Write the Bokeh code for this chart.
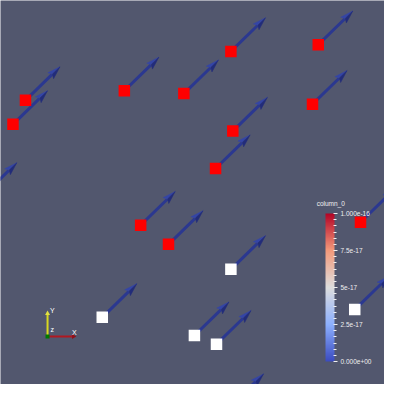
from bokeh.plotting import figure
from bokeh.models import ColorBar, LinearColorMapper, FixedTicker, Label, ColumnDataSource
from bokeh.embed import file_html
from bokeh.resources import INLINE
import numpy as np

# Glyph centres in screen-like scene units (x right, y up), column_0 value per point
pt_x = [240, 331, 26, 13, 129, 191, 325, 242, 224, 146, 175, 375,
        240, 106, 202, 225, 369, -19, 238]
pt_y = [347, 354, 296, 271, 306, 303, 292, 264, 225, 166, 146, 169,
        120, 70, 51, 42, 78, 196, -24]
column_0 = [1e-16] * 12 + [5e-17] * 5 + [1e-16, 5e-17]

# vector attached to each point (arrow glyph)
vec_u = [36] * len(pt_x)
vec_v = [35] * len(pt_x)

bar_ticks = [0.0, 2.5e-17, 5e-17, 7.5e-17, 1e-16]
bar_labels = ["0.000e+00", "2.5e-17", "5e-17", "7.5e-17", "1.000e-16"]

BG = "#52576e"
W = H = 384


def cool_to_warm(n=256):
	stops = [0.0, 0.25, 0.5, 0.75, 1.0]
	rgb = np.array([[59, 76, 192], [141, 176, 254], [221, 221, 221],
					[244, 154, 123], [180, 4, 38]], dtype=float)
	t = np.linspace(0, 1, n)
	cols = np.column_stack([np.interp(t, stops, rgb[:, k]) for k in range(3)])
	return ["#%02x%02x%02x" % tuple(int(round(c)) for c in row) for row in cols]


p = figure(width=W, height=H, x_range=(0, 400), y_range=(0, 400),
		   toolbar_location=None, output_backend="svg", min_border=0)
p.background_fill_color = BG
p.border_fill_color = BG
p.outline_line_color = None
p.axis.visible = False
p.grid.visible = False

# Arrows: shaft + two-tone cone head
x0 = np.array(pt_x, dtype=float)
y0 = np.array(pt_y, dtype=float)
u = np.array(vec_u, dtype=float)
v = np.array(vec_v, dtype=float)
ln = np.hypot(u, v)
dx, dy = u / ln, v / ln
nx, ny = -dy, dx
tx, ty = x0 + u, y0 + v
head_len, head_w = 13.5, 8.5
bx, by = tx - head_len * dx, ty - head_len * dy

p.segment(x0, y0, bx + 2 * dx, by + 2 * dy, line_color="#2b3890", line_width=3)
light_xs = [[tx[i], bx[i] + head_w / 2 * nx[i], bx[i] + 2.5 * dx[i]] for i in range(len(tx))]
light_ys = [[ty[i], by[i] + head_w / 2 * ny[i], by[i] + 2.5 * dy[i]] for i in range(len(tx))]
dark_xs = [[tx[i], bx[i] + 2.5 * dx[i], bx[i] - head_w / 2 * nx[i]] for i in range(len(tx))]
dark_ys = [[ty[i], by[i] + 2.5 * dy[i], by[i] - head_w / 2 * ny[i]] for i in range(len(tx))]
p.patches(light_xs, light_ys, fill_color="#3445a6", line_color="#3445a6", line_width=0.5)
p.patches(dark_xs, dark_ys, fill_color="#222c7a", line_color="#222c7a", line_width=0.5)

# Points coloured by column_0
pt_mapper = LinearColorMapper(palette=["#ffffff", "#ff0000"], low=5e-17, high=1e-16)
src = ColumnDataSource(dict(x=pt_x, y=pt_y, c=column_0))
p.scatter("x", "y", marker="square", size=11.5, source=src,
		  fill_color={"field": "c", "transform": pt_mapper}, line_color=None)

# Colour legend
bar_mapper = LinearColorMapper(palette=cool_to_warm(), low=bar_ticks[0], high=bar_ticks[-1])
minor = [bar_ticks[-1] * i / 24 for i in range(1, 24) if i % 6]
cb = ColorBar(color_mapper=bar_mapper,
			  ticker=FixedTicker(ticks=bar_ticks, minor_ticks=minor),
			  major_label_overrides={t: s for t, s in zip(bar_ticks, bar_labels)},
			  width=9, height=148, location=(325, 23), padding=0,
			  background_fill_alpha=0, border_line_color=None, bar_line_color=None,
			  major_tick_in=1, major_tick_out=3, major_tick_line_color="#f0f0f0",
			  minor_tick_in=1, minor_tick_out=2, minor_tick_line_color="#f0f0f0",
			  label_standoff=3, major_label_text_color="#eeeeee",
			  major_label_text_font="Liberation Sans", major_label_text_font_size="6.5px")
p.add_layout(cb)
p.add_layout(Label(x=344, y=189, text="column_0", text_align="center", text_baseline="middle",
				   text_color="#eeeeee", text_font="Liberation Sans", text_font_size="6.5px"))

# Orientation triad
ox, oy = 49, 50
p.segment([ox], [oy], [ox], [oy + 24], line_color="#d8d820", line_width=2)
p.segment([ox], [oy], [ox + 26], [oy], line_color="#b01820", line_width=2)
p.scatter([ox], [oy + 24], marker="triangle", size=5, fill_color="#e0e040", line_color=None)
p.scatter([ox + 27], [oy], marker="triangle", angle=-np.pi / 2, size=5, fill_color="#901018", line_color=None)
p.scatter([ox], [oy], marker="square", size=4, fill_color="#007a00", line_color=None)
for tx_, ty_, s in [(ox + 5, oy + 27, "Y"), (ox + 28, oy + 4, "X"), (ox + 5, oy + 7, "z")]:
	p.add_layout(Label(x=tx_, y=ty_, text=s, text_align="center", text_baseline="middle",
					   text_color="#ffffff", text_font="Liberation Sans", text_font_size="7px"))

open("out.html", "w").write(file_html(p, INLINE))
